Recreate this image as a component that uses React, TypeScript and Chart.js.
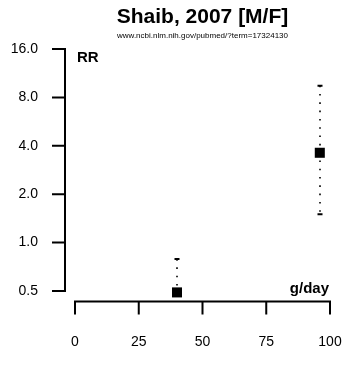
import { useEffect, useRef } from "react";
import { Chart, registerables } from "chart.js";

Chart.register(...registerables);

const doses = [40, 96];
const rr = [0.49, 3.62];
const lowerCI = [0.31, 1.5];
const upperCI = [0.79, 9.46];
const yTicks = [0.5, 1, 2, 4, 8, 16];
const yTickLabels = ["0.5", "1.0", "2.0", "4.0", "8.0", "16.0"];
const xTicks = [0, 25, 50, 75, 100];
const xTickLabels = ["0", "25", "50", "75", "100"];
const titleText = "Shaib, 2007 [M/F]";
const subtitleText = "www.ncbi.nlm.nih.gov/pubmed/?term=17324130";
const yAxisTitle = "RR";
const xAxisTitle = "g/day";

const FONT = '"Liberation Sans", Arial, Helvetica, sans-serif';

const rPlugin = {
  id: "rStyle",
  beforeDatasetsDraw(chart: any) {
    const { ctx, chartArea, scales } = chart;
    const xs = scales.x;
    const ys = scales.y;
    ctx.save();
    ctx.beginPath();
    ctx.rect(chartArea.left - 20, chartArea.top - 20, chartArea.right - chartArea.left + 40, chartArea.bottom - chartArea.top + 20);
    ctx.clip();
    ctx.strokeStyle = "#000";
    for (let i = 0; i < doses.length; i++) {
      const x = Math.round(xs.getPixelForValue(doses[i]));
      const yl = ys.getPixelForValue(lowerCI[i]);
      const yu = ys.getPixelForValue(upperCI[i]);
      ctx.lineWidth = 1.6;
      ctx.setLineDash([1.6, 6.7]);
      ctx.beginPath();
      ctx.moveTo(x, yu);
      ctx.lineTo(x, yl);
      ctx.stroke();
      ctx.setLineDash([]);
      ctx.lineWidth = 2;
      ctx.beginPath();
      ctx.moveTo(x - 2.5, yu);
      ctx.lineTo(x + 2.5, yu);
      ctx.moveTo(x - 2.5, yl);
      ctx.lineTo(x + 2.5, yl);
      ctx.stroke();
    }
    ctx.restore();
  },
  afterDraw(chart: any) {
    const { ctx, chartArea, scales } = chart;
    const xs = scales.x;
    const ys = scales.y;
    ctx.save();
    ctx.strokeStyle = "#000";
    ctx.fillStyle = "#000";
    ctx.lineWidth = 2;
    ctx.lineCap = "butt";
    ctx.lineJoin = "miter";

    // Y axis
    const ax = chartArea.left - 10;
    const yTop = ys.getPixelForValue(yTicks[yTicks.length - 1]);
    const yBot = ys.getPixelForValue(yTicks[0]);
    ctx.beginPath();
    ctx.moveTo(ax - 13, yTop);
    ctx.lineTo(ax, yTop);
    ctx.lineTo(ax, yBot);
    ctx.lineTo(ax - 13, yBot);
    for (let i = 1; i < yTicks.length - 1; i++) {
      const y = ys.getPixelForValue(yTicks[i]);
      ctx.moveTo(ax - 13, y);
      ctx.lineTo(ax, y);
    }
    ctx.stroke();
    ctx.font = `14px ${FONT}`;
    ctx.textAlign = "right";
    ctx.textBaseline = "middle";
    for (let i = 0; i < yTicks.length; i++) {
      const y = ys.getPixelForValue(yTicks[i]);
      ctx.fillText(yTickLabels[i], ax - 27, y);
    }

    // X axis
    const ay = chartArea.bottom + 10.5;
    const xL = xs.getPixelForValue(xTicks[0]);
    const xR = xs.getPixelForValue(xTicks[xTicks.length - 1]);
    ctx.beginPath();
    ctx.moveTo(xL, ay + 13);
    ctx.lineTo(xL, ay);
    ctx.lineTo(xR, ay);
    ctx.lineTo(xR, ay + 13);
    for (let i = 1; i < xTicks.length - 1; i++) {
      const x = xs.getPixelForValue(xTicks[i]);
      ctx.moveTo(x, ay);
      ctx.lineTo(x, ay + 13);
    }
    ctx.stroke();
    ctx.textAlign = "center";
    ctx.textBaseline = "middle";
    for (let i = 0; i < xTicks.length; i++) {
      const x = xs.getPixelForValue(xTicks[i]);
      ctx.fillText(xTickLabels[i], x, ay + 41);
    }

    // Axis titles
    ctx.font = `bold 15px ${FONT}`;
    ctx.textAlign = "left";
    ctx.textBaseline = "middle";
    ctx.fillText(yAxisTitle, chartArea.left + 2, yTop + 9);
    ctx.textAlign = "right";
    ctx.textBaseline = "alphabetic";
    ctx.fillText(xAxisTitle, xR - 1, chartArea.bottom + 2);

    // Titles
    const cx = (chartArea.left + chartArea.right) / 2;
    ctx.textAlign = "center";
    ctx.textBaseline = "middle";
    ctx.font = `bold 21px ${FONT}`;
    ctx.fillText(titleText, cx, 17);
    ctx.font = `8px ${FONT}`;
    ctx.fillText(subtitleText, cx, 36);
    ctx.restore();
  },
};

export default function App() {
  const ref = useRef<HTMLCanvasElement | null>(null);
  useEffect(() => {
    document.body.style.margin = "0";
    const canvas = ref.current;
    if (!canvas) return;
    const chart = new Chart(canvas, {
      type: "scatter",
      data: {
        datasets: [
          {
            data: doses.map((d, i) => ({ x: d, y: rr[i] })),
            pointStyle: "rect",
            pointRadius: 7.1,
            pointHoverRadius: 7.1,
            backgroundColor: "#000",
            borderColor: "#000",
            borderWidth: 0,
            clip: false as any,
          },
        ],
      },
      options: {
        responsive: false,
        animation: false,
        devicePixelRatio: 1,
        layout: { padding: { left: 75, right: 18, top: 49, bottom: 76 } },
        plugins: {
          legend: { display: false },
          title: { display: false },
          tooltip: { enabled: false },
        },
        events: [],
        scales: {
          x: { type: "linear", min: 0, max: 100, display: false },
          y: { type: "logarithmic", min: 0.5, max: 16, display: false },
        },
      },
      plugins: [rPlugin],
    });
    return () => chart.destroy();
  }, []);
  return (
    <div style={{ width: 348, height: 367 }}>
      <canvas ref={ref} width={348} height={367} style={{ display: "block", width: 348, height: 367 }} />
    </div>
  );
}
